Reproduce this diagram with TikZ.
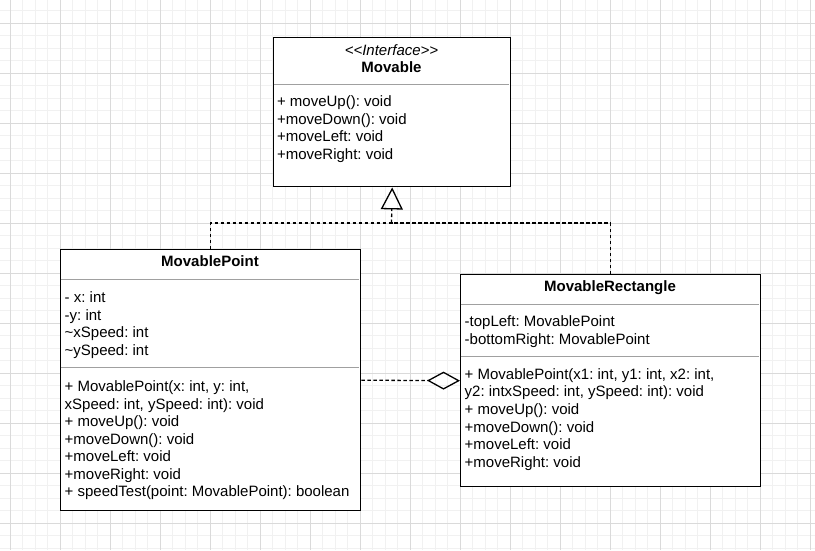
\documentclass[tikz,border=0pt]{standalone}
\usepackage{fontspec}
\setmainfont{Liberation Sans}
\usetikzlibrary{arrows.meta}
\definecolor{gridminor}{HTML}{F1F1F1}
\definecolor{gridmajor}{HTML}{DADADA}
\definecolor{sepgray}{HTML}{A0A0A0}
\frenchspacing
\begin{document}
\begin{tikzpicture}[x=1pt,y=-1pt,
  classbox/.style={draw=black, line width=1.4pt, fill=white, inner sep=0pt, anchor=north west},
  sepline/.style={draw=sepgray, line width=1pt},
  member/.style={anchor=base west, inner sep=0pt, font=\fontsize{15}{18}\selectfont},
  title/.style={anchor=base, inner sep=0pt, font=\fontsize{15}{18}\selectfont\bfseries},
  stereo/.style={anchor=base, inner sep=0pt, font=\fontsize{15}{18}\selectfont\itshape},
  dashline/.style={line width=1.3pt, dash pattern=on 3.5pt off 2.5pt},
]
\useasboundingbox (0,0) rectangle (815,550);
\fill[white] (0,0) rectangle (815,550);
% grid
\foreach \k in {0,...,66} {\draw[gridminor, line width=1pt] ({-2.5+12.5*\k},0) -- ({-2.5+12.5*\k},550);}
\foreach \k in {0,...,45} {\draw[gridminor, line width=1pt] (0,{-2+12.5*\k}) -- (815,{-2+12.5*\k});}
\foreach \k in {0,...,16} {\draw[gridmajor, line width=1pt] ({10+50*\k},0) -- ({10+50*\k},550);}
\foreach \k in {0,...,10} {\draw[gridmajor, line width=1pt] (0,{23+50*\k}) -- (815,{23+50*\k});}

% class boxes
\node[classbox, minimum width=237pt, minimum height=149pt] (mv) at (273,37) {};
\node[classbox, minimum width=300pt, minimum height=261pt] (mp) at (60,249) {};
\node[classbox, minimum width=300pt, minimum height=212pt] (mr) at (460,274) {};

% separators
\draw[sepline] (273.7,84.3) -- (509.3,84.3);
\draw[sepline] (60.7,279.3) -- (359.3,279.3);
\draw[sepline] (60.7,367.3) -- (359.3,367.3);
\draw[sepline] (460.7,304) -- (759.3,304);
\draw[sepline] (460.7,356.7) -- (759.3,356.7);

% Movable
\node[stereo] (mvst) at (391.5,55.5) {<\kern0pt<Interface>\kern0pt>};
\node[title] (mvt) at (391.5,72.7) {Movable};
\node[member] (mvm1) at (276.8,106) {+ moveUp(): void};
\node[member] (mvm2) at (276.8,124) {+moveDown(): void};
\node[member] (mvm3) at (276.8,141.8) {+moveLeft: void};
\node[member] (mvm4) at (276.8,159.8) {+moveRight: void};

% MovablePoint
\node[title] (mpt) at (210,266.7) {MovablePoint};
\node[member] (mpa1) at (64.5,302.3) {- x: int};
\node[member] (mpa2) at (64.5,320) {-y: int};
\node[member] (mpa3) at (64.5,337.5) {\textasciitilde xSpeed: int};
\node[member] (mpa4) at (64.5,355) {\textasciitilde ySpeed: int};
\node[member] (mpm1) at (64.5,391.7) {+ MovablePoint(x: int, y: int,};
\node[member] (mpm2) at (64.5,409) {xSpeed: int, ySpeed: int): void};
\node[member] (mpm3) at (64.5,426.5) {+ moveUp(): void};
\node[member] (mpm4) at (64.5,444) {+moveDown(): void};
\node[member] (mpm5) at (64.5,461.5) {+moveLeft: void};
\node[member] (mpm6) at (64.5,479) {+moveRight: void};
\node[member] (mpm7) at (64.5,496.7) {+ speedTest(point: MovablePoint): boolean};

% MovableRectangle
\node[title] (mrt) at (610,291.7) {MovableRectangle};
\node[member] (mra1) at (464.5,326.7) {-topLeft: MovablePoint};
\node[member] (mra2) at (464.5,344.3) {-bottomRight: MovablePoint};
\node[member] (mrm1) at (464.5,379.3) {+ MovablePoint(x1: int, y1: int, x2: int,};
\node[member] (mrm2) at (464.5,396.8) {y2: intxSpeed: int, ySpeed: int): void};
\node[member] (mrm3) at (464.5,414.5) {+ moveUp(): void};
\node[member] (mrm4) at (464.5,432) {+moveDown(): void};
\node[member] (mrm5) at (464.5,449.7) {+moveLeft: void};
\node[member] (mrm6) at (464.5,467.3) {+moveRight: void};

% realization
\coordinate (j) at (391.5,223);
\draw[dashline] (mp.north) |- (j);
\draw[dashline] (mr.north) |- (j);
\draw[dashline, -{Triangle[open, length=22pt, width=22pt]}] (j) -- (mv.south);

% aggregation
\draw[dashline, -{Diamond[open, length=33pt, width=18pt]}] (mp.east) -- (mr.west);
\end{tikzpicture}
\end{document}
